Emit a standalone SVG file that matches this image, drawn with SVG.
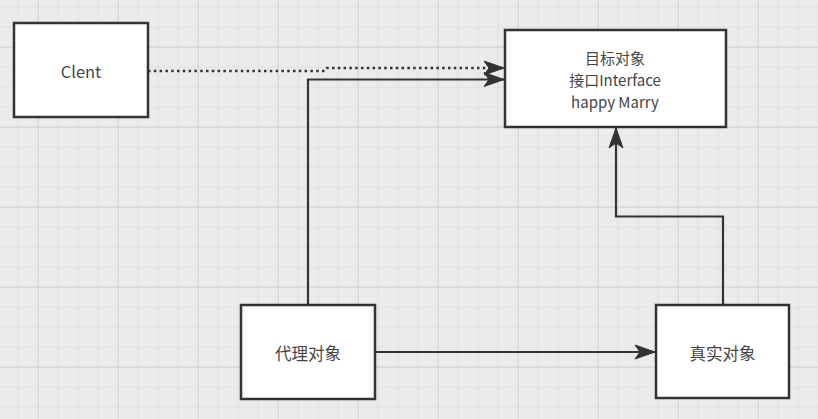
<svg xmlns="http://www.w3.org/2000/svg" width="818" height="419" viewBox="0 0 818 419">
<defs>
<pattern id="minor" patternUnits="userSpaceOnUse" x="-2.3" y="6.7" width="20" height="20">
<path d="M0,0 H20 M0,0 V20" fill="none" stroke="#dadada" stroke-width="1.2"/>
</pattern>
<pattern id="major" patternUnits="userSpaceOnUse" x="37.7" y="46.7" width="80" height="80">
<path d="M0,0 H80 M0,0 V80" fill="none" stroke="#d0d0d0" stroke-width="1.8"/>
</pattern>
<marker id="arrow" markerUnits="userSpaceOnUse" markerWidth="22" markerHeight="14" refX="20" refY="7" orient="auto" viewBox="0 0 22 14" overflow="visible">
<path d="M0,0 L20,7 L0,14 L5,7 Z" fill="#333" stroke="#333" stroke-width="1" stroke-linejoin="miter"/>
</marker>
</defs>
<style>
.node rect{fill:#fff;stroke:#333;stroke-width:2.5}
.node text{font-family:"Microsoft YaHei","Noto Sans CJK SC","Noto Sans",sans-serif;font-size:16.5px;fill:#444;text-anchor:middle;dominant-baseline:central}
.node text.ml{font-size:15px}
.edge{fill:none;stroke:#333;stroke-width:2.2}
.dotted{stroke-dasharray:2.5 3.3;stroke-width:2.5}
</style>
<rect width="818" height="419" fill="#ebebeb"/>
<rect width="818" height="419" fill="url(#minor)"/>
<rect width="818" height="419" fill="url(#major)"/>
<g id="connectors">
<path class="edge dotted" d="M148,71 H325 L327,68 H504" marker-end="url(#arrow)"/>
<path class="edge" d="M308,305 V79.5 H504" marker-end="url(#arrow)"/>
<path class="edge" d="M723,305 V216.5 H616 V128" marker-end="url(#arrow)"/>
<path class="edge" d="M375,352 H655" marker-end="url(#arrow)"/>
</g>
<g id="clent" class="node">
<rect x="14" y="23" width="134" height="94"/>
<text x="81" y="71">Clent</text>
</g>
<g id="target" class="node">
<rect x="505" y="30" width="221" height="97"/>
<text class="ml" x="615" y="57">目标对象</text>
<text class="ml" x="615" y="79">接口Interface</text>
<text class="ml" x="615" y="101">happy Marry</text>
</g>
<g id="proxy" class="node">
<rect x="241" y="305" width="134" height="94"/>
<text x="308" y="353">代理对象</text>
</g>
<g id="real" class="node">
<rect x="656" y="305" width="133" height="93"/>
<text x="722.5" y="353">真实对象</text>
</g>
</svg>
